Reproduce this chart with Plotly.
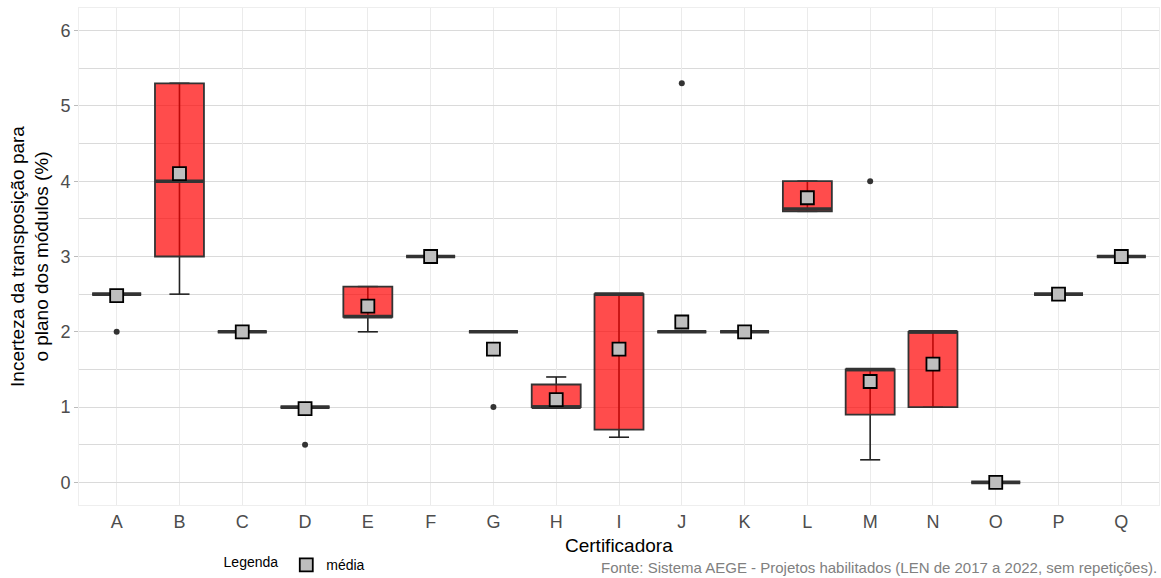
import plotly.graph_objects as go

categories = ["A","B","C","D","E","F","G","H","I","J","K","L","M","N","O","P","Q"]
q1     = [2.5, 3.0, 2.0, 1.0, 2.2, 3.0, 2.0, 1.0, 0.7, 2.0, 2.0, 3.6, 0.9, 1.0, 0.0, 2.5, 3.0]
median = [2.5, 4.0, 2.0, 1.0, 2.2, 3.0, 2.0, 1.0, 2.5, 2.0, 2.0, 3.63, 1.5, 2.0, 0.0, 2.5, 3.0]
q3     = [2.5, 5.3, 2.0, 1.0, 2.6, 3.0, 2.0, 1.3, 2.5, 2.0, 2.0, 4.0, 1.5, 2.0, 0.0, 2.5, 3.0]
wlow   = [2.5, 2.5, 2.0, 1.0, 2.0, 3.0, 2.0, 1.0, 0.6, 2.0, 2.0, 3.6, 0.3, 1.0, 0.0, 2.5, 3.0]
whigh  = [2.5, 5.3, 2.0, 1.0, 2.6, 3.0, 2.0, 1.4, 2.5, 2.0, 2.0, 4.0, 1.5, 2.0, 0.0, 2.5, 3.0]
means  = [2.48, 4.10, 2.0, 0.98, 2.34, 3.0, 1.77, 1.10, 1.77, 2.13, 2.0, 3.78, 1.34, 1.57, 0.0, 2.5, 3.0]
outlier_cat = ["A", "D", "G", "J", "M"]
outlier_val = [2.0, 0.5, 1.0, 5.3, 4.0]

xs = list(range(len(categories)))
BOXW = 0.78
CAPW = 0.16
FONT = "Liberation Sans, Arial, sans-serif"

fig = go.Figure()

# error bars (whisker range with caps), drawn beneath the translucent boxes
shapes = []
for i in xs:
    if whigh[i] > wlow[i]:
        line = dict(color="#222222", width=1.6)
        shapes.append(dict(type="line", xref="x", yref="y", x0=i, x1=i,
                           y0=wlow[i], y1=whigh[i], line=line, layer="between"))
        for yv in (wlow[i], whigh[i]):
            shapes.append(dict(type="line", xref="x", yref="y", x0=i - CAPW, x1=i + CAPW,
                               y0=yv, y1=yv, line=line, layer="between"))

# boxes
fig.add_trace(go.Box(
    x=xs, q1=q1, median=median, q3=q3, lowerfence=q1, upperfence=q3,
    width=BOXW, fillcolor="rgba(255,0,0,0.70)",
    line=dict(color="#333333", width=1.8),
    whiskerwidth=0, showlegend=False, hoverinfo="skip", boxpoints=False))

# thick medians
mx, my = [], []
for i in xs:
    mx += [i - BOXW / 2, i + BOXW / 2, None]
    my += [median[i], median[i], None]
fig.add_trace(go.Scatter(x=mx, y=my, mode="lines",
                         line=dict(color="#333333", width=3.6),
                         showlegend=False, hoverinfo="skip"))

# outliers
fig.add_trace(go.Scatter(
    x=[categories.index(c) for c in outlier_cat], y=outlier_val, mode="markers",
    marker=dict(size=6, color="#333333"), showlegend=False, hoverinfo="skip"))

# means
fig.add_trace(go.Scatter(
    x=xs, y=means, mode="markers", name="média",
    marker=dict(symbol="square", size=13, color="#BEBEBE",
                line=dict(color="#000000", width=1.8)),
    hoverinfo="skip"))

fig.update_layout(
    width=1161, height=578,
    margin=dict(l=79, r=2, t=8, b=73, autoexpand=False),
    paper_bgcolor="white", plot_bgcolor="white",
    font=dict(family=FONT, color="#000000"),
    showlegend=True,
    shapes=shapes,
    legend=dict(orientation="h", x=0.132, xanchor="left",
                yref="container", y=0.022, yanchor="middle",
                title=dict(text="Legenda", side="left", font=dict(size=14, color="#000000")),
                font=dict(size=14, color="#000000"), bgcolor="rgba(0,0,0,0)",
                itemwidth=30),
    xaxis=dict(
        range=[-0.6, 16.6], tickmode="array", tickvals=xs, ticktext=categories,
        tickfont=dict(size=18, color="#4D4D4D"), automargin=False,
        showgrid=True, gridcolor="#EBEBEB", gridwidth=1,
        zeroline=False, showline=True, mirror=True, linecolor="#EEEEEE", linewidth=1,
        ticks="",
    ),
    yaxis=dict(
        range=[-0.3, 6.3], tickmode="array", tickvals=[0, 1, 2, 3, 4, 5, 6],
        tickfont=dict(size=18, color="#4D4D4D"), automargin=False,
        showgrid=True, gridcolor="#DADADA", gridwidth=1,
        minor=dict(tickvals=[0.5, 1.5, 2.5, 3.5, 4.5, 5.5], showgrid=True,
                   gridcolor="#DADADA", gridwidth=1, ticks=""),
        zeroline=False, showline=True, mirror=True, linecolor="#EEEEEE", linewidth=1,
        ticks="outside", ticklen=4, tickcolor="#BBBBBB",
        title=dict(text="Incerteza da transposição para<br>o plano dos módulos (%)",
                   font=dict(size=19, color="#000000"), standoff=6),
    ),
    annotations=[
        dict(text="Certificadora", xref="paper", yref="paper", x=0.5, xanchor="center",
             y=-(545 - 505) / 497, yanchor="middle", showarrow=False,
             font=dict(size=19, color="#000000", family=FONT)),
        dict(text="Fonte: Sistema AEGE - Projetos habilitados (LEN de 2017 a 2022, sem repetições).",
             xref="paper", yref="paper", x=1.0, xanchor="right",
             y=-(567 - 505) / 497, yanchor="middle",
             showarrow=False, font=dict(size=15, color="#808080", family=FONT)),
    ],
)

fig.write_html("out.html")
